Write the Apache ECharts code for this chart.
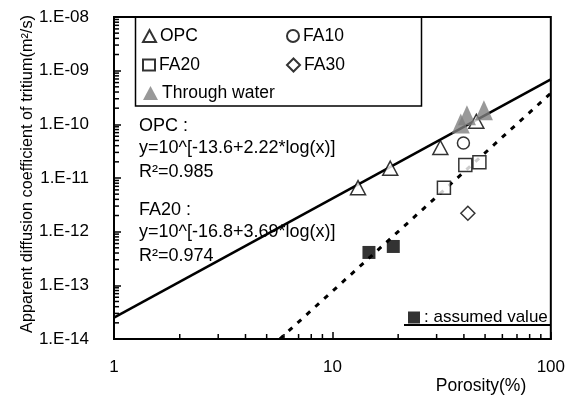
<!DOCTYPE html>
<html><head><meta charset="utf-8">
<script src="https://cdn.jsdelivr.net/npm/echarts@6/dist/echarts.min.js"></script>
<style>html,body{margin:0;padding:0;background:#fff}#c{width:568px;height:403px}</style>
</head><body><div id="c"></div>
<script>
// ---- data ----
const opcX = [13.1, 18.4, 31.2, 45.6];
const opcY = [6.6e-12, 1.52e-11, 3.7e-11, 1.14e-10];
const fa10X = [39.8];
const fa10Y = [4.5e-11];
const fa20X = [32.4, 40.6, 47.1];
const fa20Y = [6.6e-12, 1.75e-11, 1.97e-11];
const fa30X = [41.7];
const fa30Y = [2.2e-12];
const waterX = [38.7, 41.3, 49.4];
const waterY = [1.04e-10, 1.47e-10, 1.83e-10];
const assumedX = [14.7, 19.0];
const assumedY = [4.1e-13, 5.3e-13];
const opcFitX = [1, 100];
const opcFitY = [2.5e-14, 6.9e-10];
const fa20FitX = [5.74, 100];
const fa20FitY = [1e-14, 3.8e-10];
const xTickLabels = ['1', '10', '100'];
const yTickLabels = ['1.E-14', '1.E-13', '1.E-12', '1.E-11', '1.E-10', '1.E-09', '1.E-08'];
const xMinor = [2,3,4,5,6,7,8,9,20,30,40,50,60,70,80,90];
const yMinor = [];
for (let e = -14; e < -8; e++) for (let m = 2; m <= 9; m++) yMinor.push(m * Math.pow(10, e));

const FONT = "'Liberation Sans', Arial, sans-serif";
const zip = (a, b) => a.map((v, i) => [v, b[i]]);
const open = {color: '#fff', borderColor: '#000', borderWidth: 1.5};

const chart = echarts.init(document.getElementById('c'), null, {renderer: 'canvas'});
const lg = (name, left, top, w, h, fmt, fs) => ({
  data: [name], left: left, top: top, padding: 0, itemWidth: w, itemHeight: h,
  selectedMode: false, formatter: fmt || '{name}',
  textStyle: {fontFamily: FONT, fontSize: fs || 17.5, color: '#000', padding: [0, 0, 0, -1]}
});
const txt = (x, y, s) => ({type: 'text', x: x, y: y, style: {text: s, fontFamily: FONT, fontSize: 18, fill: '#000', verticalAlign: 'middle'}});

chart.setOption({
  animation: false,
  grid: {left: 114, right: 17, top: 17, bottom: 64, show: true, borderColor: '#000', borderWidth: 2},
  xAxis: {
    type: 'log', logBase: 10, min: 1, max: 100,
    axisLine: {lineStyle: {color: '#000', width: 2}},
    axisTick: {inside: true, length: 7, lineStyle: {color: '#000', width: 1.5}},
    splitLine: {show: false},
    axisLabel: {fontFamily: FONT, fontSize: 17, color: '#000', margin: 20,
      formatter: v => xTickLabels[Math.round(Math.log10(v))]}
  },
  yAxis: {
    type: 'log', logBase: 10, min: 1e-14, max: 1e-8, splitNumber: 6,
    axisLine: {lineStyle: {color: '#000', width: 2}},
    axisTick: {inside: true, length: 7, lineStyle: {color: '#000', width: 1.5}},
    splitLine: {show: false},
    axisLabel: {fontFamily: FONT, fontSize: 17, color: '#000', margin: 25,
      formatter: v => yTickLabels[Math.round(Math.log10(v)) + 14]}
  },
  legend: [
    lg('OPC', 142, 27, 13, 12),
    lg('FA10', 286, 27, 12, 12),
    lg('FA20', 142, 56, 12, 11),
    lg('FA30', 286, 56, 13, 13),
    lg('Through water', 143, 84, 15, 14),
    lg('assumed', 408, 309, 12, 12, ': assumed value', 17)
  ],
  graphic: [
    {type: 'rect', shape: {x: 135.5, y: 17, width: 286, height: 89}, style: {fill: 'none', stroke: '#000', lineWidth: 1.5}, z: 10},
    txt(139, 126, 'OPC :'),
    txt(139, 148, 'y=10^[-13.6+2.22*log(x)]'),
    txt(139, 172, 'R²=0.985'),
    txt(139, 210, 'FA20 :'),
    txt(139, 232, 'y=10^[-16.8+3.69*log(x)]'),
    txt(139, 256, 'R²=0.974'),
    {type: 'line', shape: {x1: 404, y1: 325, x2: 551, y2: 325}, style: {stroke: '#000', lineWidth: 2}},
    {type: 'text', x: 28, y: 174, rotation: Math.PI / 2, style: {text: 'Apparent diffusion coefficient of tritium(m²/s)', fontFamily: FONT, fontSize: 16.3, fill: '#000', align: 'center', verticalAlign: 'middle'}},
    {type: 'text', x: 481, y: 386, style: {text: 'Porosity(%)', fontFamily: FONT, fontSize: 17.5, fill: '#000', align: 'center', verticalAlign: 'middle'}}
  ],
  series: [
    {name: 'opcFit', type: 'line', data: zip(opcFitX, opcFitY), symbol: 'none', lineStyle: {color: '#000', width: 2.5}, silent: true, z: 2},
    {name: 'fa20Fit', type: 'line', data: zip(fa20FitX, fa20FitY), symbol: 'none', lineStyle: {color: '#000', width: 3, type: [5, 7]}, silent: true, z: 2},
    {name: 'OPC', type: 'scatter', data: zip(opcX, opcY), symbol: 'triangle', symbolSize: [15, 14], itemStyle: open, z: 3},
    {name: 'FA10', type: 'scatter', data: zip(fa10X, fa10Y), symbol: 'circle', symbolSize: 12, itemStyle: open, z: 3},
    {name: 'FA20', type: 'scatter', data: zip(fa20X, fa20Y), symbol: 'rect', symbolSize: 13, itemStyle: open, z: 3},
    {name: 'FA30', type: 'scatter', data: zip(fa30X, fa30Y), symbol: 'diamond', symbolSize: 14, itemStyle: open, z: 3},
    {name: 'Through water', type: 'scatter', data: zip(waterX, waterY), symbol: 'triangle', symbolSize: [18, 20], itemStyle: {color: '#808080'}, z: 4},
    {name: 'assumed', type: 'scatter', data: zip(assumedX, assumedY), symbol: 'rect', symbolSize: 13, itemStyle: {color: '#000'}, z: 4},
    {name: 'xMinorTicks', type: 'custom', silent: true, z: 5, data: xMinor.map(v => [v, 1e-14]),
      renderItem: (p, api) => { const pt = api.coord([api.value(0), api.value(1)]);
        return {type: 'line', shape: {x1: pt[0], y1: pt[1], x2: pt[0], y2: pt[1] - 5}, style: {stroke: '#000', lineWidth: 1.5}}; }},
    {name: 'yMinorTicks', type: 'custom', silent: true, z: 5, data: yMinor.map(v => [1, v]),
      renderItem: (p, api) => { const pt = api.coord([api.value(0), api.value(1)]);
        return {type: 'line', shape: {x1: pt[0], y1: pt[1], x2: pt[0] + 5, y2: pt[1]}, style: {stroke: '#000', lineWidth: 1.5}}; }}
  ]
});
</script></body></html>
